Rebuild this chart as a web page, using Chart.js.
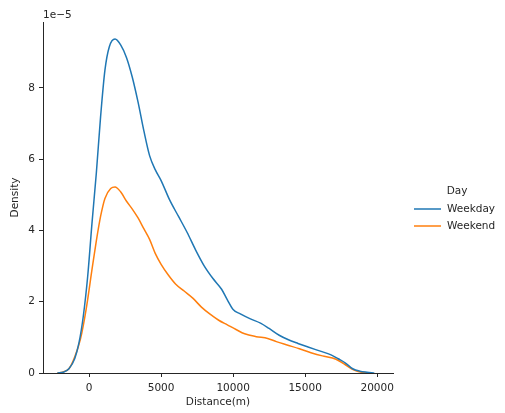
<!DOCTYPE html>
<html>
<head>
<meta charset="utf-8">
<script src="https://cdn.jsdelivr.net/npm/chart.js@4.4.0/dist/chart.umd.min.js"></script>
<style>
  html, body { margin: 0; padding: 0; background: #fff; }
  #box { width: 505px; height: 413px; position: relative; }
</style>
</head>
<body>
<div id="box"><canvas id="grafico"></canvas></div>
<script>
// distancias (m) e densidades (em unidades de 1e-5)
const weekdayX = [-2200, -1800, -1400, -1000, -700, -400, -100, 200, 500, 800, 1100, 1400, 1800, 2200, 2600, 3000, 3400, 3800, 4200, 4600, 5000, 5600, 6200, 6800, 7400, 8000, 8600, 9200, 9600, 10000, 10500, 11200, 11900, 12500, 13200, 13800, 14500, 15200, 16000, 16800, 17300, 17800, 18300, 18800, 19300, 19800];
const weekdayY = [0, 0.02, 0.12, 0.4, 0.85, 1.6, 2.7, 4.2, 5.6, 7.2, 8.5, 9.15, 9.37, 9.2, 8.85, 8.3, 7.6, 6.8, 6.1, 5.7, 5.4, 4.85, 4.4, 3.95, 3.45, 3.0, 2.65, 2.35, 2.05, 1.78, 1.66, 1.52, 1.4, 1.25, 1.06, 0.94, 0.83, 0.73, 0.62, 0.51, 0.4, 0.28, 0.12, 0.05, 0.02, 0];
const weekendX = [-2200, -1800, -1400, -1000, -600, -200, 200, 500, 800, 1100, 1500, 1800, 2200, 2600, 3000, 3400, 3800, 4200, 4600, 5000, 5500, 6000, 6600, 7200, 7800, 8400, 9000, 9600, 10200, 10800, 11600, 12400, 13000, 13800, 14600, 15400, 16200, 16900, 17400, 17900, 18400, 18900, 19400];
const weekendY = [0, 0.03, 0.12, 0.45, 0.95, 1.8, 2.9, 3.7, 4.4, 4.9, 5.18, 5.22, 5.08, 4.82, 4.6, 4.35, 4.05, 3.75, 3.35, 3.05, 2.75, 2.5, 2.3, 2.1, 1.85, 1.65, 1.48, 1.35, 1.22, 1.1, 1.02, 0.97, 0.88, 0.78, 0.68, 0.57, 0.48, 0.42, 0.33, 0.2, 0.08, 0.02, 0];

const xTicks = [0, 5000, 10000, 15000, 20000];
const yTicks = [0, 2, 4, 6, 8];
const series = ["Weekday", "Weekend"];
const cores = ["#1f77b4", "#ff7f0e"];

const fonte = { family: "'DejaVu Sans', sans-serif", size: 10.5 };
const corTexto = "#262626";

const pontos = (xs, ys) => xs.map((x, i) => ({ x: x, y: ys[i] }));

// legenda e texto de escala
const extras = {
  id: "extras",
  afterDraw(chart) {
    const ctx = chart.ctx;
    const area = chart.chartArea;
    ctx.save();
    ctx.font = "10.5px 'DejaVu Sans', sans-serif";
    ctx.fillStyle = corTexto;
    ctx.textBaseline = "middle";
    ctx.textAlign = "left";
    ctx.fillText("1e\u22125", area.left, 15);

    ctx.textAlign = "center";
    ctx.fillText("Day", 457, 191);
    ctx.textAlign = "left";
    series.forEach((nome, i) => {
      const y = 209 + i * 17;
      ctx.strokeStyle = cores[i];
      ctx.lineWidth = 1.5;
      ctx.beginPath();
      ctx.moveTo(414, y);
      ctx.lineTo(441, y);
      ctx.stroke();
      ctx.fillText(nome, 447, y + 0.5);
    });
    ctx.restore();
  }
};

new Chart(document.getElementById("grafico"), {
  type: "line",
  data: {
    datasets: [
      { label: series[0], data: pontos(weekdayX, weekdayY), borderColor: cores[0], borderWidth: 1.5, pointRadius: 0, cubicInterpolationMode: "monotone", fill: false },
      { label: series[1], data: pontos(weekendX, weekendY), borderColor: cores[1], borderWidth: 1.5, pointRadius: 0, cubicInterpolationMode: "monotone", fill: false }
    ]
  },
  options: {
    responsive: true,
    maintainAspectRatio: false,
    animation: false,
    layout: { padding: { left: 0, top: 22, right: 112, bottom: 0 } },
    plugins: { legend: { display: false }, tooltip: { enabled: false } },
    scales: {
      x: {
        type: "linear",
        min: -3200,
        max: 21100,
        afterBuildTicks: s => { s.ticks = xTicks.map(v => ({ value: v })); },
        afterFit: s => { s.height = 40; },
        grid: { display: true, drawOnChartArea: false, drawTicks: true, tickLength: 4, color: "#262626" },
        border: { display: true, color: "#262626", width: 1 },
        ticks: { font: fonte, color: corTexto, padding: 5, maxRotation: 0, callback: v => String(v) },
        title: { display: true, text: "Distance(m)", font: fonte, color: corTexto, padding: { top: 0, bottom: 4 } }
      },
      y: {
        min: 0,
        max: 9.85,
        afterBuildTicks: s => { s.ticks = yTicks.map(v => ({ value: v })); },
        afterFit: s => { s.width = 43; },
        grid: { display: true, drawOnChartArea: false, drawTicks: true, tickLength: 4, color: "#262626" },
        border: { display: true, color: "#262626", width: 1 },
        ticks: { font: fonte, color: corTexto, padding: 4, callback: v => String(v) },
        title: { display: true, text: "Density", font: fonte, color: corTexto, padding: { top: 9, bottom: 0 } }
      }
    }
  },
  plugins: [extras]
});
</script>
</body>
</html>
